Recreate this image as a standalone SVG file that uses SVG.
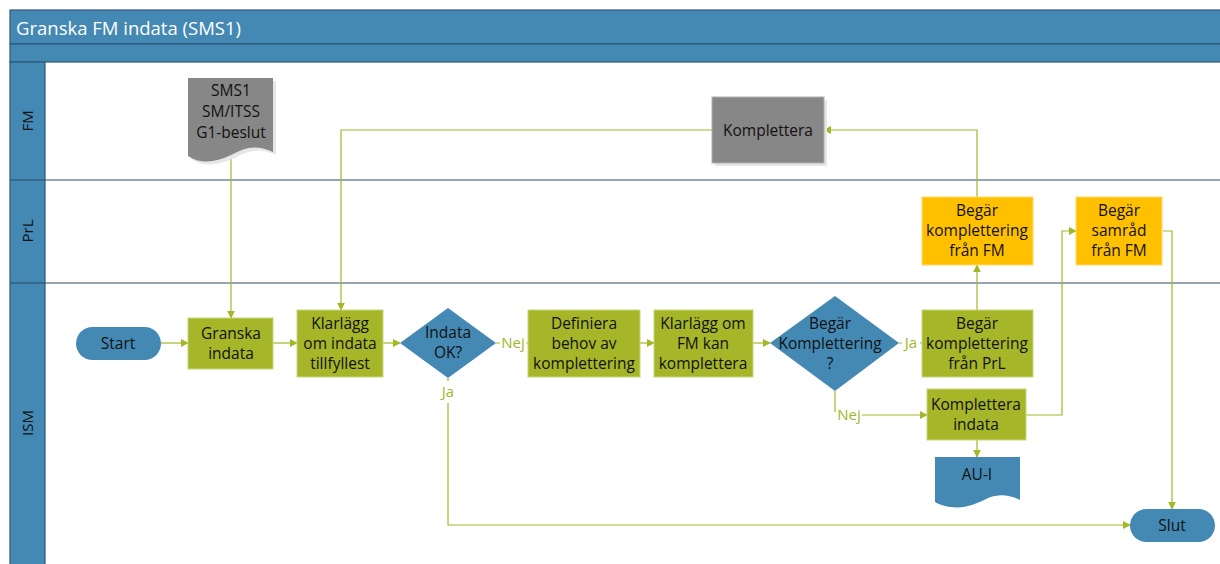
<svg xmlns="http://www.w3.org/2000/svg" width="1220" height="564" viewBox="0 0 1220 564">
<style>
text{font-family:"Open Sans","Noto Sans","Liberation Sans",sans-serif;font-size:15.5px;fill:#111;text-anchor:middle}
.band{fill:#4389B3;stroke:#2D5A78;stroke-width:1.2}
.lane{stroke:#2D4A63;stroke-width:1.2}
.green{fill:#A5B628;stroke:#C9D67A;stroke-width:1}
.yellow{fill:#FFC000;stroke:#FFD966;stroke-width:1}
.gray{fill:#878787;stroke:#B0B0B0;stroke-width:1}
.blue{fill:#4389B3}
.shadow{fill:#E6E6E6}
.conn path{fill:none;stroke:#A5B628;stroke-width:1.2}
.lbl{fill:#A5B628;font-size:15px}
.lanelbl{font-size:15px}
</style>
<defs>
<marker id="arr" viewBox="0 0 10 10" refX="9" refY="5" markerWidth="8" markerHeight="8" markerUnits="userSpaceOnUse" orient="auto">
<path d="M0,0 L10,5 L0,10 Z" fill="#A5B628"/>
</marker>
</defs>
<rect x="0" y="0" width="1220" height="564" fill="#fff"/>
<!-- pool -->
<g id="pool">
<rect class="band" x="10" y="10" width="1214" height="34"/>
<text x="16" y="35" style="fill:#fff;font-size:18.5px;text-anchor:start">Granska FM indata (SMS1)</text>
<rect class="band" x="10" y="44" width="1214" height="18"/>
<rect class="band" x="10" y="62" width="35" height="510"/>
<line class="lane" x1="45" y1="180" x2="1220" y2="180"/>
<line class="lane" x1="45" y1="283" x2="1220" y2="283"/>
<line class="lane" x1="10" y1="180" x2="45" y2="180"/>
<line class="lane" x1="10" y1="283" x2="45" y2="283"/>
<text class="lanelbl" transform="translate(33,121) rotate(-90)">FM</text>
<text class="lanelbl" transform="translate(33,231) rotate(-90)">PrL</text>
<text class="lanelbl" transform="translate(33,423) rotate(-90)">ISM</text>
</g>
<!-- connectors -->
<g id="connectors" class="conn">
<path d="M231,157 V318" marker-end="url(#arr)"/>
<path d="M712,130 H341 V310" marker-end="url(#arr)"/>
<path d="M161,343 H188" marker-end="url(#arr)"/>
<path d="M273,343 H297" marker-end="url(#arr)"/>
<path d="M383,343 H400" marker-end="url(#arr)"/>
<path d="M496,343 H500 M526,343 H528"/>
<path d="M640,343 H654" marker-end="url(#arr)"/>
<path d="M753,343 H770" marker-end="url(#arr)"/>
<path d="M899,343 H902 M920,343 H922"/>
<path d="M835,391 V412 M862,415 H927" marker-end="url(#arr)"/>
<path d="M977,310 V265" marker-end="url(#arr)"/>
<path d="M977,197 V130 H824" marker-end="url(#arr)"/>
<path d="M1026,415 H1062 V231 H1076" marker-end="url(#arr)"/>
<path d="M977,440 V457" marker-end="url(#arr)"/>
<path d="M1163,231 H1172 V509" marker-end="url(#arr)"/>
<path d="M448,378 V381 M448,403 V525 H1130" marker-end="url(#arr)"/>
<text class="lbl" x="513" y="348">Nej</text>
<text class="lbl" x="911" y="348">Ja</text>
<text class="lbl" x="849" y="420">Nej</text>
<text class="lbl" x="448" y="397">Ja</text>
</g>
<!-- nodes -->
<g id="sms1">
<path class="shadow" d="M191,81 H276 V155 C258,147 248,151 234,158 C218,166 203,167 191,159 Z"/>
<path d="M188,78 H273 V152 C255,144 245,148 231,155 C215,163 200,164 188,156 Z" fill="#878787"/>
<text x="231" y="96">SMS1</text>
<text x="231" y="117">SM/ITSS</text>
<text x="231" y="138">G1-beslut</text>
</g>
<g id="komplettera-fm">
<rect class="shadow" x="715" y="100" width="112" height="66"/>
<rect class="gray" x="712" y="97" width="112" height="66"/>
<text x="768" y="136">Komplettera</text>
</g>
<g id="begar-fm">
<rect class="yellow" x="922" y="197" width="111" height="68"/>
<text x="977" y="216">Begär</text>
<text x="977" y="236">komplettering</text>
<text x="977" y="256">från FM</text>
</g>
<g id="begar-samrad">
<rect class="yellow" x="1076" y="197" width="86" height="68"/>
<text x="1119" y="216">Begär</text>
<text x="1119" y="236">samråd</text>
<text x="1119" y="256">från FM</text>
</g>
<g id="start">
<rect class="blue" x="76" y="327" width="85" height="33" rx="16.5"/>
<text x="118" y="349">Start</text>
</g>
<g id="granska">
<rect class="green" x="188" y="318" width="85" height="51"/>
<text x="231" y="339">Granska</text>
<text x="231" y="359">indata</text>
</g>
<g id="klarlagg-indata">
<rect class="green" x="297" y="310" width="86" height="67"/>
<text x="340" y="329">Klarlägg</text>
<text x="340" y="349">om indata</text>
<text x="340" y="369">tillfyllest</text>
</g>
<g id="indata-ok">
<path class="blue" d="M448,308 L496,343 L448,378 L400,343 Z"/>
<text x="448" y="338">Indata</text>
<text x="448" y="358">OK?</text>
</g>
<g id="definiera">
<rect class="green" x="528" y="310" width="112" height="67"/>
<text x="584" y="329">Definiera</text>
<text x="584" y="349">behov av</text>
<text x="584" y="369">komplettering</text>
</g>
<g id="klarlagg-fm">
<rect class="green" x="654" y="310" width="99" height="67"/>
<text x="703" y="329">Klarlägg om</text>
<text x="703" y="349">FM kan</text>
<text x="703" y="369">komplettera</text>
</g>
<g id="begar-komplettering">
<path class="blue" d="M835,296 L899,343 L835,391 L770,343 Z"/>
<text x="830" y="329">Begär</text>
<text x="830" y="349">Komplettering</text>
<text x="830" y="369">?</text>
</g>
<g id="begar-prl">
<rect class="green" x="922" y="310" width="111" height="67"/>
<text x="977" y="329">Begär</text>
<text x="977" y="349">komplettering</text>
<text x="977" y="369">från PrL</text>
</g>
<g id="komplettera-indata">
<rect class="green" x="927" y="389" width="99" height="51"/>
<text x="976" y="410">Komplettera</text>
<text x="976" y="430">indata</text>
</g>
<g id="au-i">
<path class="blue" d="M935,457 H1020 V500 C1008,494 998,494 988,498 C974,505 962,510 945,506 C940,505 937,503 935,502 Z"/>
<text x="977" y="480">AU-I</text>
</g>
<g id="slut">
<rect class="blue" x="1130" y="509" width="85" height="33" rx="16.5"/>
<text x="1172" y="531">Slut</text>
</g>
</svg>
